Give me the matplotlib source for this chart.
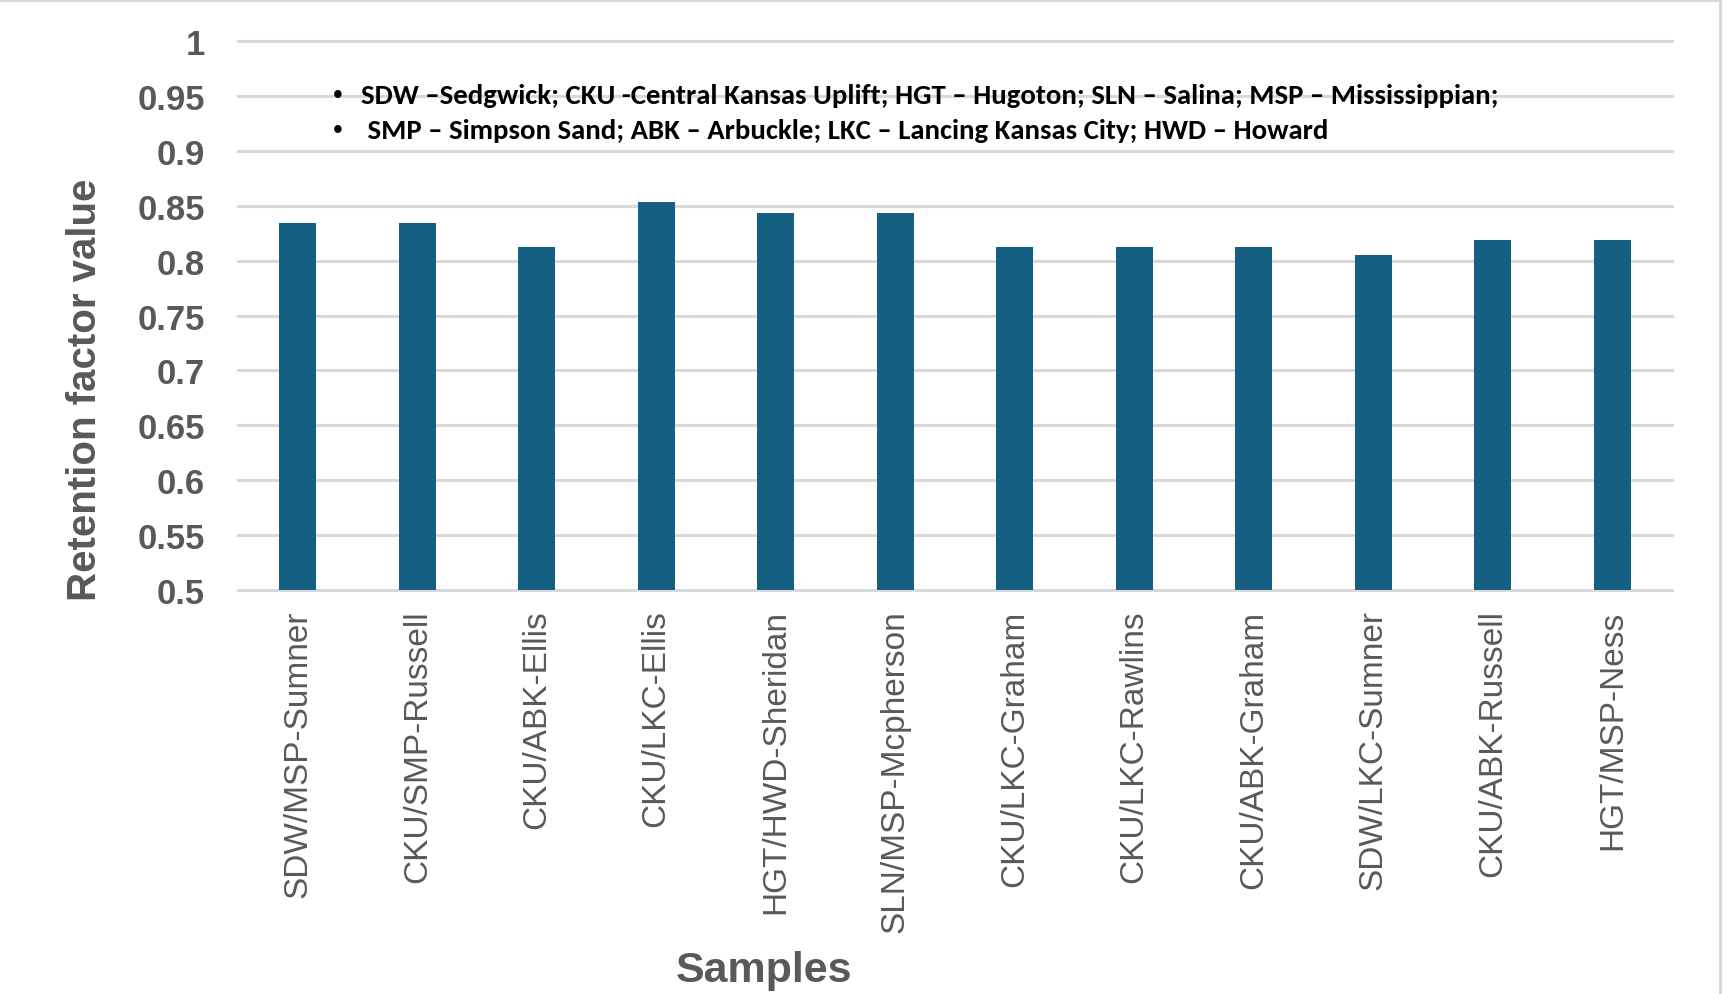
import matplotlib

matplotlib.use("Agg")
import matplotlib.pyplot as plt
from matplotlib.lines import Line2D
from matplotlib import font_manager

samples = [
    "SDW/MSP-Sumner", "CKU/SMP-Russell", "CKU/ABK-Ellis", "CKU/LKC-Ellis",
    "HGT/HWD-Sheridan", "SLN/MSP-Mcpherson", "CKU/LKC-Graham", "CKU/LKC-Rawlins",
    "CKU/ABK-Graham", "SDW/LKC-Sumner", "CKU/ABK-Russell", "HGT/MSP-Ness",
]
retention = [0.834, 0.834, 0.812, 0.853, 0.843, 0.843,
             0.812, 0.812, 0.812, 0.805, 0.819, 0.819]
yticks = [0.5, 0.55, 0.6, 0.65, 0.7, 0.75, 0.8, 0.85, 0.9, 0.95, 1.0]
ytick_labels = ["0.5", "0.55", "0.6", "0.65", "0.7", "0.75", "0.8",
                "0.85", "0.9", "0.95", "1"]
notes = [
    "SDW \u2013Sedgwick; CKU -Central Kansas Uplift; HGT \u2013 Hugoton; "
    "SLN \u2013 Salina; MSP \u2013 Mississippian;",
    " SMP \u2013 Simpson Sand; ABK \u2013 Arbuckle; LKC \u2013 Lancing Kansas City; "
    "HWD \u2013 Howard",
]

BAR = "#156082"
GRID = "#d9d9d9"
TXT = "#595959"

installed = {f.name for f in font_manager.fontManager.ttflist}
note_font = next((f for f in ["Carlito", "Lato", "Liberation Sans"] if f in installed),
                 "DejaVu Sans")
plt.rcParams["font.family"] = ["Liberation Sans", "DejaVu Sans"]

W, H = 1736, 995
fig = plt.figure(figsize=(W / 100, H / 100), dpi=100)
ax = fig.add_axes([238 / W, 1 - 591 / H, (1672 - 238) / W, (591 - 42) / H])

x = list(range(len(samples)))
ax.bar(x, retention, width=0.31, color=BAR, zorder=3)
ax.set_xlim(-0.5, len(samples) - 0.5)
ax.set_ylim(0.5, 1.0)
ax.set_yticks(yticks)
ax.set_yticklabels(ytick_labels, fontsize=25, fontweight="bold", color=TXT)
ax.set_xticks(x)
ax.set_xticklabels(samples, rotation=90, fontsize=24, color=TXT)
ax.tick_params(axis="both", length=0)
ax.tick_params(axis="y", pad=24)
ax.tick_params(axis="x", pad=14)
ax.yaxis.grid(True, color=GRID, linewidth=2.2, zorder=0)
for gl in ax.get_ygridlines():
    gl.set_clip_on(False)
for s in ax.spines.values():
    s.set_visible(False)

fig.text(85 / W, 1 - 390 / H, "Retention factor value", rotation=90,
         ha="center", va="center", fontsize=29, fontweight="bold", color=TXT)
fig.text(764 / W, 1 - 971 / H, "Samples", ha="center", va="center",
         fontsize=31, fontweight="bold", color=TXT)

# note lines; first line is sized to span the same width as in the source
renderer = fig.canvas.get_renderer()
note_texts = []
for yy, line in zip([96, 131], notes):
    fig.text(338 / W, 1 - yy / H, "\u2022", ha="center", va="center",
             fontsize=20, color="black")
    t = fig.text(361 / W, 1 - yy / H, line, ha="left", va="center",
                 fontsize=21, fontweight="bold", family=[note_font, "DejaVu Sans"],
                 color="black")
    note_texts.append(t)
w0 = note_texts[0].get_window_extent(renderer).width
size = 21 * 1134 / w0
for t in note_texts:
    t.set_fontsize(size)

# chart-area border (top and right edges)
fig.add_artist(Line2D([0, 1720 / W], [1 - 1 / H, 1 - 1 / H], color=GRID, lw=2.2))
fig.add_artist(Line2D([1720 / W, 1720 / W], [0, 1 - 1 / H], color=GRID, lw=2.2))

fig.savefig("out.png", dpi=100, facecolor="white")
